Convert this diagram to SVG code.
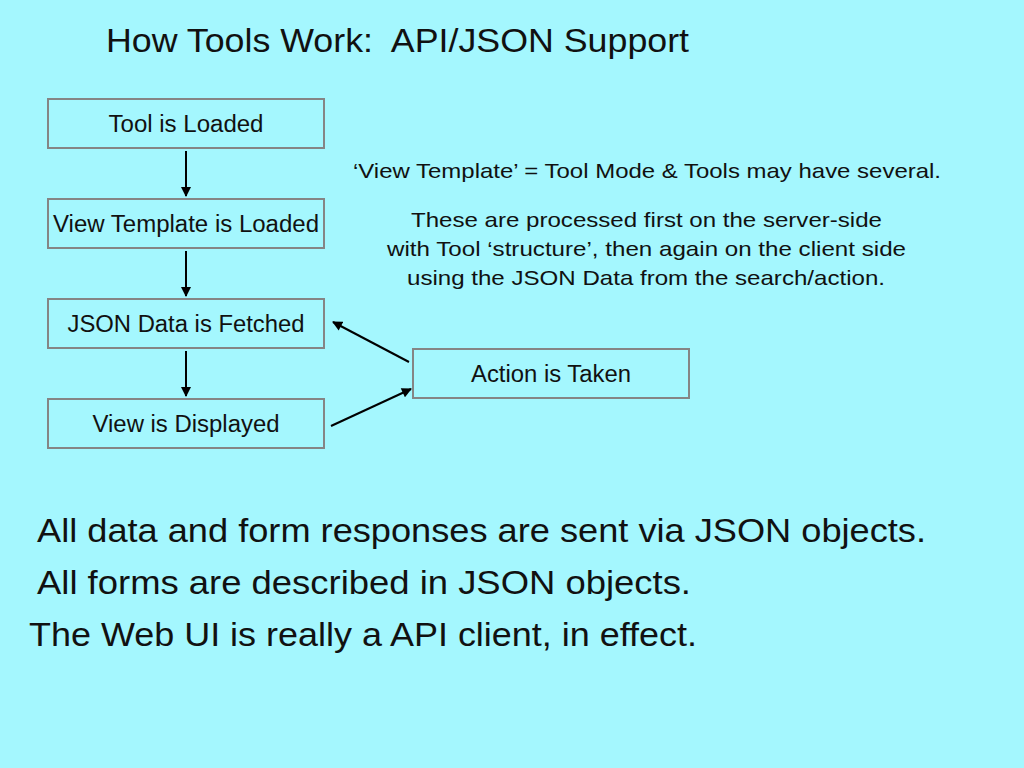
<svg xmlns="http://www.w3.org/2000/svg" width="1024" height="768" viewBox="0 0 1024 768">
<defs>
<marker id="ah" viewBox="0 0 10 10" refX="9" refY="5" markerWidth="11" markerHeight="10" orient="auto" markerUnits="userSpaceOnUse">
<path d="M0,0 L10,5 L0,10 z" fill="#000"/>
</marker>
<style>
.box{fill:none;stroke:#858585;stroke-width:2}
.bt{font-family:"Liberation Sans",Arial,sans-serif;font-size:23px;fill:#111;text-anchor:middle}
.t{font-family:"Liberation Sans",Arial,sans-serif;fill:#111}
.c{stroke:#000;stroke-width:2;fill:none;marker-end:url(#ah)}
</style>
</defs>
<rect width="1024" height="768" fill="#a4f7fe"/>
<text class="t" x="106" y="52" font-size="34" xml:space="preserve" textLength="583" lengthAdjust="spacingAndGlyphs">How Tools Work:  API/JSON Support</text>
<g id="n1"><rect class="box" x="48" y="99" width="276" height="49"/><text class="bt" x="186" y="132" textLength="155" lengthAdjust="spacingAndGlyphs">Tool is Loaded</text></g>
<g id="n2"><rect class="box" x="48" y="199" width="276" height="49"/><text class="bt" x="186" y="232" textLength="266" lengthAdjust="spacingAndGlyphs">View Template is Loaded</text></g>
<g id="n3"><rect class="box" x="48" y="299" width="276" height="49"/><text class="bt" x="186" y="332" textLength="237" lengthAdjust="spacingAndGlyphs">JSON Data is Fetched</text></g>
<g id="n4"><rect class="box" x="48" y="399" width="276" height="49"/><text class="bt" x="186" y="432" textLength="187" lengthAdjust="spacingAndGlyphs">View is Displayed</text></g>
<g id="n5"><rect class="box" x="413" y="349" width="276" height="49"/><text class="bt" x="551" y="382" textLength="160" lengthAdjust="spacingAndGlyphs">Action is Taken</text></g>
<g id="connectors">
<line class="c" x1="186" y1="151" x2="186" y2="196"/>
<line class="c" x1="186" y1="251" x2="186" y2="296"/>
<line class="c" x1="186" y1="351" x2="186" y2="396"/>
<line class="c" x1="409" y1="362" x2="333" y2="322"/>
<line class="c" x1="331" y1="426" x2="411" y2="389"/>
</g>
<g id="notes" class="t" font-size="21" text-anchor="middle">
<text x="647" y="178" textLength="588" lengthAdjust="spacingAndGlyphs">‘View Template’ = Tool Mode &amp; Tools may have several.</text>
<text x="646.5" y="227" textLength="471" lengthAdjust="spacingAndGlyphs">These are processed first on the server-side</text>
<text x="646.5" y="256" textLength="519" lengthAdjust="spacingAndGlyphs">with Tool ‘structure’, then again on the client side</text>
<text x="646" y="285" textLength="478" lengthAdjust="spacingAndGlyphs">using the JSON Data from the search/action.</text>
</g>
<g id="footer" class="t" font-size="34">
<text x="37" y="542" textLength="889" lengthAdjust="spacingAndGlyphs">All data and form responses are sent via JSON objects.</text>
<text x="37" y="594" textLength="654" lengthAdjust="spacingAndGlyphs">All forms are described in JSON objects.</text>
<text x="29" y="646" textLength="668" lengthAdjust="spacingAndGlyphs">The Web UI is really a API client, in effect.</text>
</g>
</svg>
